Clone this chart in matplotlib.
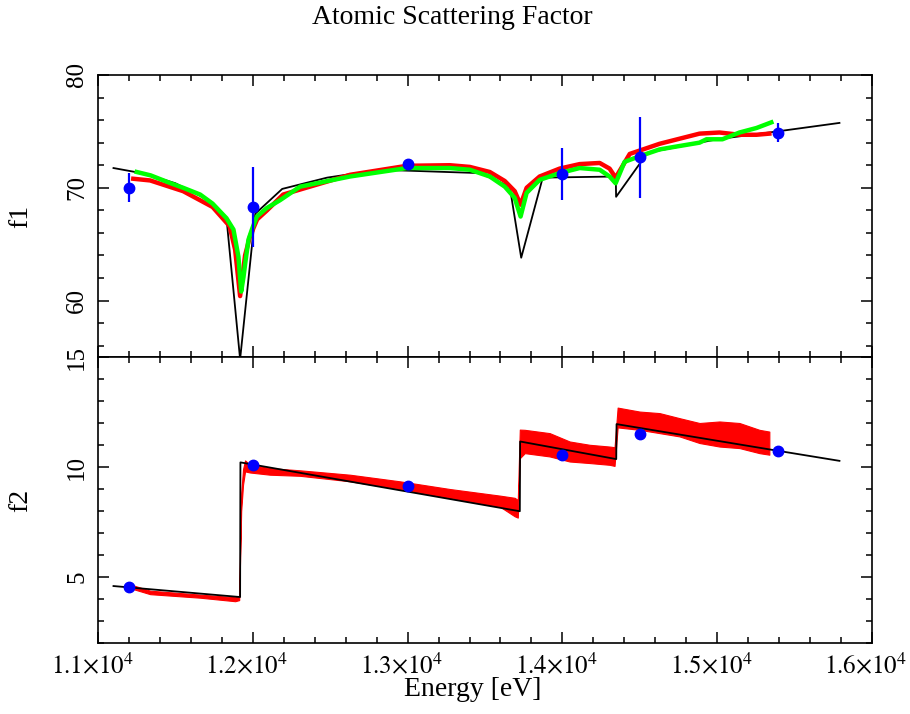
import numpy as np
import matplotlib
matplotlib.use("Agg")
from matplotlib import pyplot as plt
from matplotlib.ticker import MultipleLocator
from matplotlib.transforms import ScaledTranslation

# ---- data ----
# tabulated (black) curves
tab_f1_energy = [11100, 11300, 11500, 11700, 11830, 11918, 12016, 12190, 12480, 12821,
                 13467, 13660, 13734, 13873, 14345, 14347, 14550, 15000, 15390, 15790]
tab_f1 = [71.75, 71.25, 70.4, 69.0, 67.3, 54.8, 67.7, 69.9, 70.9, 71.6,
          71.3, 70.1, 63.8, 70.9, 71.0, 69.2, 73.1, 74.3, 75.0, 75.75]

tab_f2_energy = [11100, 11918, 11920, 13725, 13727, 14348, 14350, 15355, 15790]
tab_f2 = [4.59, 4.09, 10.21, 7.99, 11.16, 10.36, 11.95, 10.78, 10.28]

# measured f1 (red)
meas_f1_energy = [11228, 11337, 11550, 11740, 11850, 11886, 11918, 11950, 11982, 12028,
                  12092, 12196, 12628, 12996, 13273, 13402, 13531, 13628, 13692, 13730,
                  13769, 13853, 13982, 14112, 14241, 14305, 14344, 14435, 14628, 14886,
                  15015, 15144, 15254, 15337]
meas_f1 = [70.8, 70.65, 69.7, 68.3, 66.6, 64.5, 60.4, 64.0, 65.7, 67.2,
           68.0, 69.4, 71.15, 71.95, 72.0, 71.85, 71.4, 70.6, 69.7, 68.5,
           70.0, 71.0, 71.7, 72.1, 72.2, 71.7, 70.9, 73.0, 73.9, 74.8,
           74.9, 74.7, 74.7, 74.8]

# Kramers-Kronig f1 (green)
kk_f1_energy = [11250, 11340, 11470, 11550, 11660, 11740, 11830, 11875, 11907, 11925,
                11940, 11951, 11972, 11994, 12026, 12090, 12176, 12305, 12628, 12996,
                13273, 13402, 13531, 13628, 13692, 13730, 13769, 13853, 13982, 14112,
                14241, 14305, 14344, 14402, 14499, 14628, 14712, 14886, 14931, 15034,
                15144, 15254, 15350]
kk_f1 = [71.4, 71.1, 70.4, 70.0, 69.4, 68.6, 67.3, 66.3, 63.9, 60.8,
         62.1, 63.3, 65.4, 66.3, 67.45, 68.2, 68.9, 70.1, 71.0, 71.75,
         71.75, 71.6, 71.0, 70.1, 69.1, 67.45, 69.55, 70.7, 71.3, 71.75,
         71.6, 71.0, 70.4, 72.3, 72.8, 73.4, 73.6, 74.0, 74.3, 74.3,
         74.9, 75.3, 75.8]

# measured f2 (red band, lower / upper edge)
meas_f2_energy = [11228, 11337, 11660, 11886, 11912, 11925, 11937, 11950, 11982, 12111,
                  12305, 12628, 12950, 13273, 13596, 13692, 13712, 13725, 13757, 13918,
                  14047, 14176, 14305, 14337, 14357, 14499, 14628, 14757, 14886, 15015,
                  15144, 15273, 15337]
meas_f2_lo = [4.45, 4.22, 4.06, 3.90, 3.95, 8.0, 9.2, 9.8, 9.75, 9.65,
              9.6, 9.35, 9.0, 8.6, 8.2, 7.76, 7.7, 10.4, 10.63, 10.48,
              10.25, 10.18, 10.1, 10.05, 11.8, 11.69, 11.54, 11.39, 11.09, 10.93,
              10.86, 10.63, 10.56]
meas_f2_hi = [4.62, 4.38, 4.20, 4.08, 4.15, 8.8, 9.9, 10.3, 10.1, 9.95,
              9.85, 9.65, 9.35, 9.0, 8.7, 8.6, 8.5, 11.7, 11.69, 11.54,
              11.16, 11.01, 10.93, 10.9, 12.7, 12.52, 12.45, 12.22, 12.0, 12.07,
              12.0, 11.69, 11.61]

# reference points (blue)
pt_energy = [11200, 12000, 13000, 14000, 14500, 15390]
pt_f1 = [70.0, 68.3, 72.1, 71.2, 72.7, 74.9]
pt_f1_err = [1.3, 3.55, 0.4, 2.3, 3.6, 0.8]
pt_f2 = [4.56, 10.1, 9.15, 10.56, 11.51, 10.71]

x_ticks = [11000, 12000, 13000, 14000, 15000, 16000]
x_tick_labels = [r"$1.1{\times}10^{4}$", r"$1.2{\times}10^{4}$", r"$1.3{\times}10^{4}$",
                 r"$1.4{\times}10^{4}$", r"$1.5{\times}10^{4}$", r"$1.6{\times}10^{4}$"]


def _setup_matplotlib() -> None:
    plt.rcParams["font.family"] = ["Liberation Serif", "DejaVu Serif"]
    plt.rcParams["mathtext.fontset"] = "stix"
    plt.rcParams["font.size"] = 18
    plt.rcParams["axes.linewidth"] = 1.2


def _style_axis(ax, ymajor, yminor) -> None:
    ax.set_xlim(11000, 16000)
    ax.xaxis.set_major_locator(MultipleLocator(1000))
    ax.xaxis.set_minor_locator(MultipleLocator(200))
    ax.yaxis.set_major_locator(MultipleLocator(ymajor))
    ax.yaxis.set_minor_locator(MultipleLocator(yminor))
    ax.tick_params(which="both", direction="in", top=True, right=True, width=1.1)
    ax.tick_params(which="major", length=8)
    ax.tick_params(which="minor", length=4)
    ax.tick_params(axis="y", labelrotation=90, pad=7, labelsize=18)
    for lab in ax.get_yticklabels():
        lab.set_va("center")


_setup_matplotlib()
fig = plt.figure(figsize=(9.1, 7.14), dpi=100)
ax1 = fig.add_axes([0.1077, 0.5, 0.8505, 0.395])
ax2 = fig.add_axes([0.1077, 0.0994, 0.8505, 0.4006])

# top: f1
ax1.plot(tab_f1_energy, tab_f1, color="black", linewidth=1.3, zorder=2)
ax1.plot(meas_f1_energy, meas_f1, color="#ff0000", linewidth=3.2, zorder=3)
ax1.plot(kk_f1_energy, kk_f1, color="#00ff00", linewidth=3.2, zorder=4)
ax1.errorbar(pt_energy, pt_f1, yerr=pt_f1_err, fmt="o", color="#0000ff",
             markersize=7.5, elinewidth=1.6, capsize=0, zorder=5)
ax1.set_ylim(55, 80)
_style_axis(ax1, 10, 2)
ax1.set_xticks(x_ticks)
ax1.tick_params(axis="x", labelbottom=False)
for lab in ax1.get_yticklabels():
    lab.set_va("center")

# bottom: f2
ax2.fill_between(meas_f2_energy, meas_f2_lo, meas_f2_hi, color="#ff0000", linewidth=0.8,
                 edgecolor="#ff0000", zorder=2)
ax2.plot(tab_f2_energy, tab_f2, color="black", linewidth=1.3, zorder=3)
ax2.plot(pt_energy, pt_f2, "o", color="#0000ff", markersize=7.5, zorder=4)
ax2.set_ylim(2, 15)
_style_axis(ax2, 5, 1)
ax2.set_xticks(x_ticks)
ax2.set_xticklabels(x_tick_labels, fontsize=18)
ax2.tick_params(axis="x", pad=7)
shift = ScaledTranslation(-6 / 100, 0, fig.dpi_scale_trans)
for lab in ax2.get_xticklabels():
    lab.set_transform(lab.get_transform() + shift)
for lab in ax2.get_yticklabels():
    lab.set_va("center")

fig.text(0.497, 0.975, "Atomic Scattering Factor", ha="center", va="center", fontsize=20)
fig.text(0.519, 0.034, "Energy [eV]", ha="center", va="center", fontsize=20)
fig.text(0.023, 0.697, "f1", ha="center", va="center", rotation=90, fontsize=20)
fig.text(0.023, 0.299, "f2", ha="center", va="center", rotation=90, fontsize=20)

fig.savefig("out.png", dpi=100)
